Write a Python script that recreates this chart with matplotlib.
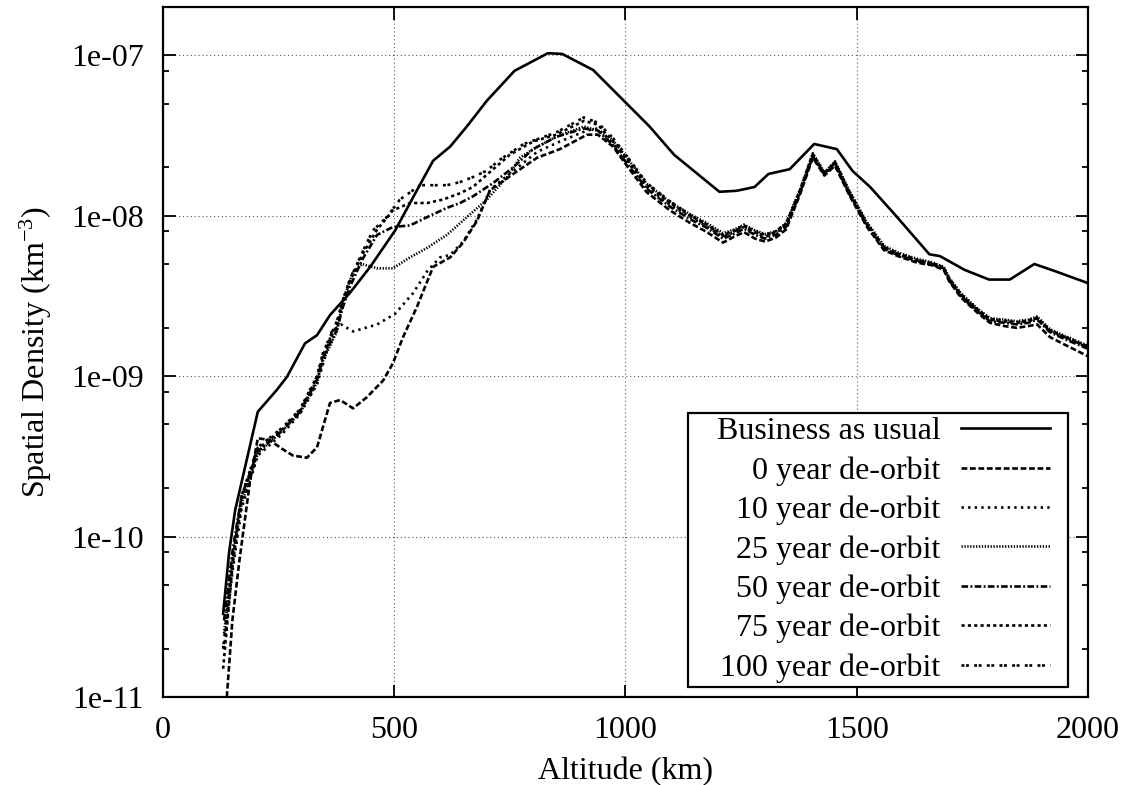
import matplotlib
matplotlib.use("Agg")
import matplotlib.pyplot as plt
from matplotlib.patches import Rectangle
from matplotlib.ticker import FixedLocator, LogLocator, FuncFormatter, NullFormatter

plt.rcParams["font.family"] = ["Liberation Serif", "DejaVu Serif"]
plt.rcParams["mathtext.fontset"] = "custom"
plt.rcParams["mathtext.rm"] = "Liberation Serif"
plt.rcParams["mathtext.it"] = "Liberation Serif:italic"

# ---------------- data: altitude (km) and spatial density (km^-3) ----------------
bau_alt = [130, 143, 156, 205, 246, 268, 307, 333, 361, 404, 448, 502, 549, 584, 621,
           657, 700, 760, 832, 863, 930, 991, 1052, 1105, 1203, 1240, 1279, 1309, 1355,
           1408, 1457, 1491, 1529, 1582, 1657, 1680, 1733, 1786, 1831, 1884, 1930, 2000]
bau = [3.3e-11, 8.0e-11, 1.46e-10, 6.0e-10, 8.2e-10, 9.9e-10, 1.6e-9, 1.8e-9, 2.4e-9,
       3.3e-9, 4.8e-9, 8.1e-9, 1.44e-8, 2.2e-8, 2.7e-8, 3.6e-8, 5.2e-8, 8.0e-8, 1.03e-7,
       1.02e-7, 8.1e-8, 5.4e-8, 3.6e-8, 2.4e-8, 1.41e-8, 1.43e-8, 1.51e-8, 1.82e-8,
       1.95e-8, 2.8e-8, 2.6e-8, 1.9e-8, 1.51e-8, 1.02e-8, 5.75e-9, 5.6e-9, 4.6e-9,
       4.0e-9, 4.0e-9, 5.0e-9, 4.5e-9, 3.8e-9]

# high-altitude part shared by the de-orbit scenarios
tail_alt = [973, 1003, 1046, 1096, 1140, 1173, 1211, 1235, 1256, 1280, 1302, 1325, 1347,
            1377, 1405, 1430, 1453, 1483, 1521, 1559, 1589, 1630, 1665, 1688, 1700, 1725,
            1760, 1788, 1820, 1846, 1870, 1890, 1918, 1950, 2000]

y0_alt = [138, 150, 165, 188, 205, 230, 259, 281, 311, 333, 361, 383, 411, 441, 476, 497,
          519, 549, 584, 621, 649, 679, 707, 757, 809, 858, 917, 940]
y0 = [1.0e-11, 3.0e-11, 7.0e-11, 2.2e-10, 4.1e-10, 4.0e-10, 3.5e-10, 3.2e-10, 3.1e-10,
      3.6e-10, 6.8e-10, 7.1e-10, 6.3e-10, 7.4e-10, 9.4e-10, 1.2e-9, 1.75e-9, 2.7e-9,
      4.8e-9, 5.5e-9, 6.8e-9, 9.3e-9, 1.44e-8, 1.82e-8, 2.3e-8, 2.6e-8, 3.2e-8, 3.2e-8]
y0_tail = [2.7e-8, 2.05e-8, 1.4e-8, 1.08e-8, 9.0e-9, 8.0e-9, 6.8e-9, 7.4e-9, 7.9e-9, 7.2e-9,
           6.9e-9, 7.3e-9, 8.2e-9, 1.35e-8, 2.3e-8, 1.78e-8, 2.05e-8, 1.36e-8, 8.6e-9,
           6.1e-9, 5.6e-9, 5.1e-9, 4.9e-9, 4.6e-9, 3.9e-9, 3.1e-9, 2.5e-9, 2.15e-9,
           2.05e-9, 2.0e-9, 2.05e-9, 2.1e-9, 1.75e-9, 1.57e-9, 1.33e-9]

y10_alt = [132, 150, 170, 205, 259, 296, 333, 350, 365, 385, 411, 463, 502, 541, 571, 599,
           621, 649, 679, 707, 757, 809, 858, 917, 940]
y10 = [2.0e-11, 6.0e-11, 1.5e-10, 3.2e-10, 4.4e-10, 5.8e-10, 8.9e-10, 1.3e-9, 1.9e-9,
       2.1e-9, 1.9e-9, 2.1e-9, 2.45e-9, 3.3e-9, 4.5e-9, 5.5e-9, 5.7e-9, 6.9e-9, 9.5e-9,
       1.45e-8, 1.9e-8, 2.5e-8, 2.9e-8, 3.4e-8, 3.5e-8]
y10_tail = [2.82e-8, 2.19e-8, 1.51e-8, 1.17e-8, 9.8e-9, 8.7e-9, 7.4e-9, 7.9e-9, 8.5e-9,
            7.8e-9, 7.4e-9, 7.8e-9, 8.7e-9, 1.41e-8, 2.4e-8, 1.82e-8, 2.14e-8, 1.41e-8,
            8.9e-9, 6.3e-9, 5.75e-9, 5.25e-9, 5.0e-9, 4.7e-9, 4.0e-9, 3.2e-9, 2.6e-9,
            2.24e-9, 2.19e-9, 2.14e-9, 2.19e-9, 2.29e-9, 1.91e-9, 1.74e-9, 1.51e-9]

y25_alt = [132, 150, 170, 205, 259, 296, 333, 346, 376, 390, 410, 430, 463, 497, 534, 571,
           614, 657, 700, 744, 772, 800, 850, 910, 940]
y25 = [2.5e-11, 7.0e-11, 1.6e-10, 3.3e-10, 4.6e-10, 5.9e-10, 9.1e-10, 1.25e-9, 1.9e-9,
       3.0e-9, 4.4e-9, 5.0e-9, 4.7e-9, 4.7e-9, 5.5e-9, 6.3e-9, 7.6e-9, 9.8e-9, 1.26e-8,
       1.74e-8, 2.3e-8, 2.6e-8, 3.1e-8, 3.6e-8, 3.4e-8]
y25_tail = [2.95e-8, 2.3e-8, 1.58e-8, 1.22e-8, 1.02e-8, 9.1e-9, 7.8e-9, 8.2e-9, 8.8e-9,
            8.1e-9, 7.7e-9, 8.0e-9, 9.0e-9, 1.45e-8, 2.45e-8, 1.86e-8, 2.18e-8, 1.45e-8,
            9.2e-9, 6.5e-9, 5.9e-9, 5.4e-9, 5.1e-9, 4.8e-9, 4.1e-9, 3.3e-9, 2.65e-9,
            2.3e-9, 2.25e-9, 2.2e-9, 2.25e-9, 2.35e-9, 1.96e-9, 1.78e-9, 1.55e-9]

y50_alt = [132, 150, 170, 205, 259, 296, 333, 346, 376, 389, 404, 432, 463, 497, 534, 571,
           614, 642, 670, 714, 757, 800, 850, 910, 940]
y50 = [3.0e-11, 8.0e-11, 1.8e-10, 3.4e-10, 4.6e-10, 6.0e-10, 9.5e-10, 1.3e-9, 1.95e-9,
       2.7e-9, 3.6e-9, 5.4e-9, 7.6e-9, 8.5e-9, 8.7e-9, 9.8e-9, 1.12e-8, 1.2e-8, 1.32e-8,
       1.6e-8, 2.0e-8, 2.6e-8, 3.1e-8, 3.5e-8, 3.4e-8]
y50_tail = [2.75e-8, 2.12e-8, 1.47e-8, 1.14e-8, 9.5e-9, 8.5e-9, 7.2e-9, 7.7e-9, 8.3e-9,
            7.6e-9, 7.2e-9, 7.6e-9, 8.5e-9, 1.38e-8, 2.35e-8, 1.8e-8, 2.1e-8, 1.38e-8,
            8.8e-9, 6.2e-9, 5.7e-9, 5.2e-9, 4.95e-9, 4.65e-9, 3.95e-9, 3.15e-9, 2.55e-9,
            2.2e-9, 2.15e-9, 2.1e-9, 2.15e-9, 2.25e-9, 1.88e-9, 1.7e-9, 1.48e-9]

y75_alt = [130, 150, 170, 205, 259, 296, 333, 346, 376, 389, 404, 432, 463, 497, 534, 571,
           605, 642, 670, 700, 750, 800, 850, 910, 940]
y75 = [1.5e-11, 6.5e-11, 1.7e-10, 3.5e-10, 4.7e-10, 6.1e-10, 9.8e-10, 1.35e-9, 2.1e-9,
       2.9e-9, 3.9e-9, 5.8e-9, 8.2e-9, 1.08e-8, 1.2e-8, 1.2e-8, 1.26e-8, 1.38e-8, 1.51e-8,
       1.8e-8, 2.4e-8, 2.9e-8, 3.2e-8, 3.9e-8, 3.7e-8]
y75_tail = [2.9e-8, 2.25e-8, 1.55e-8, 1.2e-8, 1.0e-8, 8.9e-9, 7.6e-9, 8.1e-9, 8.7e-9,
            8.0e-9, 7.6e-9, 8.0e-9, 8.9e-9, 1.43e-8, 2.42e-8, 1.84e-8, 2.16e-8, 1.43e-8,
            9.0e-9, 6.4e-9, 5.8e-9, 5.3e-9, 5.05e-9, 4.75e-9, 4.05e-9, 3.25e-9, 2.62e-9,
            2.27e-9, 2.22e-9, 2.17e-9, 2.22e-9, 2.32e-9, 1.93e-9, 1.76e-9, 1.53e-9]

y100_alt = [130, 150, 170, 205, 259, 296, 333, 346, 376, 389, 404, 432, 454, 484, 512, 556,
            614, 642, 670, 700, 729, 780, 850, 910, 940]
y100 = [2.0e-11, 7.0e-11, 1.8e-10, 3.6e-10, 4.8e-10, 6.2e-10, 1.0e-9, 1.4e-9, 2.2e-9,
        3.0e-9, 4.0e-9, 6.0e-9, 8.1e-9, 9.8e-9, 1.26e-8, 1.55e-8, 1.55e-8, 1.62e-8, 1.74e-8,
        1.91e-8, 2.24e-8, 2.8e-8, 3.3e-8, 4.1e-8, 3.8e-8]
y100_tail = [3.05e-8, 2.35e-8, 1.6e-8, 1.23e-8, 1.01e-8, 8.9e-9, 7.5e-9, 8.0e-9, 8.6e-9,
             7.9e-9, 7.5e-9, 7.9e-9, 8.8e-9, 1.42e-8, 2.4e-8, 1.83e-8, 2.15e-8, 1.42e-8,
             9.0e-9, 6.35e-9, 5.8e-9, 5.3e-9, 5.0e-9, 4.7e-9, 4.0e-9, 3.2e-9, 2.6e-9,
             2.25e-9, 2.2e-9, 2.15e-9, 2.2e-9, 2.3e-9, 1.92e-9, 1.75e-9, 1.52e-9]

labels = ["Business as usual", "0 year de-orbit", "10 year de-orbit", "25 year de-orbit",
          "50 year de-orbit", "75 year de-orbit", "100 year de-orbit"]
x_ticks = [0, 500, 1000, 1500, 2000]
y_ticks = [1e-11, 1e-10, 1e-9, 1e-8, 1e-7]

# ---------------- figure ----------------
fig = plt.figure(figsize=(11.27, 7.85), dpi=100)
ax = fig.add_axes([0.14463, 0.11210, 0.82076, 0.87898])

lw = 1.9
series = [
    (bau_alt, bau, dict(linestyle="-")),
    (y0_alt + tail_alt, y0 + y0_tail, dict(linestyle=(0, (2.2, 1.0)))),
    (y10_alt + tail_alt, y10 + y10_tail, dict(linestyle=(0, (0.9, 1.6)))),
    (y25_alt + tail_alt, y25 + y25_tail, dict(linestyle=(0, (0.5, 0.6)))),
    (y50_alt + tail_alt, y50 + y50_tail, dict(linestyle=(0, (2.5, 0.9, 0.7, 0.9)))),
    (y75_alt + tail_alt, y75 + y75_tail, dict(linestyle=(0, (1.2, 1.2)))),
    (y100_alt + tail_alt, y100 + y100_tail, dict(linestyle=(0, (1.1, 0.6, 1.1, 2.0)))),
]
for (xa, ya, style), lab in zip(series, labels):
    ax.plot(xa, ya, color="black", lw=lw, label=lab, **style)

ax.set_yscale("log")
ax.set_xlim(0, 2000)
ax.set_ylim(1e-11, 2e-7)

ax.xaxis.set_major_locator(FixedLocator(x_ticks))
ax.yaxis.set_major_locator(FixedLocator(y_ticks))
ax.yaxis.set_minor_locator(LogLocator(base=10, subs=(2, 5, 8)))
ax.yaxis.set_minor_formatter(NullFormatter())
ax.yaxis.set_major_formatter(FuncFormatter(lambda v, p: f"{v:.0e}"))

ax.tick_params(which="both", direction="in", top=True, right=True, width=1.3,
               labelsize=23, pad=14)
ax.tick_params(which="major", length=9)
ax.tick_params(which="minor", length=4.5)

for s in ax.spines.values():
    s.set_linewidth(1.6)

ax.grid(True, which="major", linestyle=(0, (1, 2.5)), color="0.35", lw=0.8)

ax.set_xlabel("Altitude (km)", fontsize=23, labelpad=8)
ax.set_ylabel(r"Spatial Density (km$^{-3}$)", fontsize=23, labelpad=12)

# key box drawn separately so its padding can differ from the entry spacing
key_box = Rectangle((0.5676, 0.0145), 0.9784 - 0.5676, 0.4116 - 0.0145,
                    transform=ax.transAxes, facecolor="white", edgecolor="black",
                    lw=1.6, zorder=4)
ax.add_patch(key_box)
leg = ax.legend(loc="lower right", bbox_to_anchor=(0.9589, 0.0205), borderaxespad=0,
                fontsize=23, markerfirst=False, alignment="right", handlelength=2.8,
                handletextpad=0.62, labelspacing=0.31, borderpad=0.0, frameon=False)
leg.set_zorder(5)

fig.savefig("out.png", dpi=100, facecolor="white")
